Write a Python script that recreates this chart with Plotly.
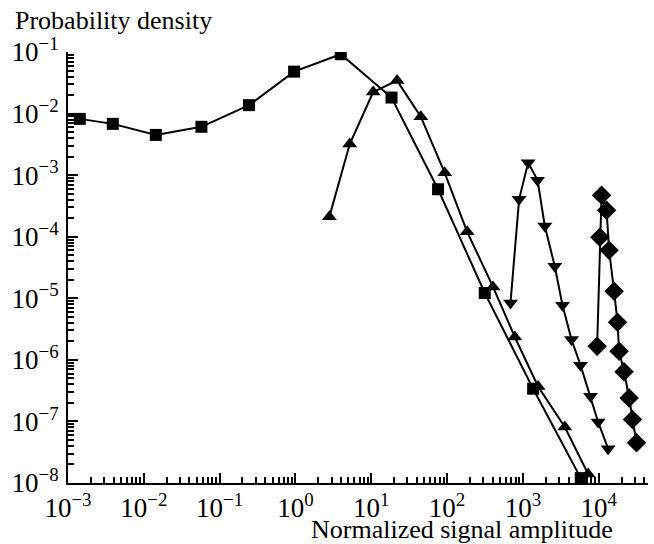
import plotly.graph_objects as go

# Curve 1: squares
x1 = [1.43e-3, 3.9e-3, 0.0144, 0.0575, 0.244, 0.96, 3.96, 18.5, 76, 314, 1364, 5800]
y1 = [8.2e-3, 6.8e-3, 4.5e-3, 6.1e-3, 0.0137, 0.048, 0.092, 0.0182, 5.9e-4, 1.22e-5, 3.4e-7, 1.2e-8]

# Curve 2: triangles up
x2 = [2.8, 5.2, 10.6, 21.9, 45, 93, 184, 404, 782, 1585, 3570, 7250]
y2 = [2.1e-4, 3.2e-3, 0.0224, 0.0343, 8.9e-3, 1.09e-3, 1.2e-4, 1.53e-5, 2.35e-6, 3.7e-7, 8.1e-8, 1.4e-8]

# Curve 3: triangles down
x3 = [686, 891, 1172, 1560, 1945, 2635, 3330, 4375, 5750, 7800, 9820, 13300]
y3 = [8.4e-6, 4.05e-4, 1.59e-3, 8.3e-4, 1.49e-4, 3.3e-5, 7.7e-6, 2.14e-6, 8.2e-7, 2.56e-7, 9.8e-8, 3.6e-8]

# Curve 4: diamonds
x4 = [9530, 10350, 10900, 12700, 13700, 15960, 17700, 18600, 21600, 25200, 27900, 31500]
y4 = [1.66e-6, 9.8e-5, 4.7e-4, 2.7e-4, 6.05e-5, 1.3e-5, 4.1e-6, 1.38e-6, 6.4e-7, 2.4e-7, 1.07e-7, 4.5e-8]

# Curve numbers and where they sit (data coordinates)
curve_labels = ["1", "2", "3", "4"]
label_x = [0.118, 2.9, 650, 5500]
label_y = [0.0139, 0.0116, 1.33e-3, 7.4e-4]

x_tickvals = [1e-3, 1e-2, 1e-1, 1, 10, 100, 1e3, 1e4]
x_ticktext = ["10<sup>−3</sup>", "10<sup>−2</sup>", "10<sup>−1</sup>", "10<sup>0</sup>",
              "10<sup>1</sup>", "10<sup>2</sup>", "10<sup>3</sup>", "10<sup>4</sup>"]
y_tickvals = [1e-8, 1e-7, 1e-6, 1e-5, 1e-4, 1e-3, 1e-2, 1e-1]
y_ticktext = ["10<sup>−8</sup>", "10<sup>−7</sup>", "10<sup>−6</sup>", "10<sup>−5</sup>",
              "10<sup>−4</sup>", "10<sup>−3</sup>", "10<sup>−2</sup>", "10<sup>−1</sup>"]

FONT = "Liberation Serif, Times New Roman, serif"

fig = go.Figure()
series = [
    (x1, y1, "square", 12),
    (x2, y2, "triangle-up", 13),
    (x3, y3, "triangle-down", 13),
    (x4, y4, "diamond", 15),
]
for xs, ys, sym, sz in series:
    fig.add_trace(go.Scatter(
        x=xs, y=ys, mode="lines+markers",
        line=dict(color="black", width=2),
        marker=dict(symbol=sym, size=sz, color="black"),
        showlegend=False,
    ))

for t, lx, ly in zip(curve_labels, label_x, label_y):
    fig.add_annotation(x=lx, y=ly, xref="x", yref="y", text=f"<i>{t}</i>",
                       showarrow=False, font=dict(family=FONT, size=25, color="black"))

fig.add_annotation(x=(13 - 68) / 580, y=1 + (52 - 21) / 430.6, xref="paper", yref="paper",
                   text="Probability density", showarrow=False, xanchor="left", yanchor="middle",
                   font=dict(family=FONT, size=26, color="black"))
fig.add_annotation(x=(615 - 68) / 580, y=-(529 - 482.6) / 430.6, xref="paper", yref="paper",
                   text="Normalized signal amplitude", showarrow=False, xanchor="right", yanchor="middle",
                   font=dict(family=FONT, size=26, color="black"))

axis_common = dict(
    showline=True, linecolor="black", linewidth=2,
    ticks="inside", ticklen=10, tickwidth=1.5, tickcolor="black",
    showgrid=False, zeroline=False,
    tickfont=dict(family=FONT, size=27, color="black"),
    minor=dict(ticks="inside", ticklen=6, tickwidth=1.5, tickcolor="black", dtick="D1", showgrid=False),
)

fig.update_xaxes(type="log", range=[-3, 4.65], tickvals=x_tickvals, ticktext=x_ticktext,
                 ticklabelstandoff=0, **axis_common)
fig.update_yaxes(type="log", range=[-8, -1], tickvals=y_tickvals, ticktext=y_ticktext,
                 ticklabelstandoff=2, **axis_common)

fig.update_layout(
    width=654, height=544,
    margin=dict(l=68, r=6, t=52, b=61),
    plot_bgcolor="white", paper_bgcolor="white",
    font=dict(family=FONT, color="black"),
)

fig.write_html("out.html")
